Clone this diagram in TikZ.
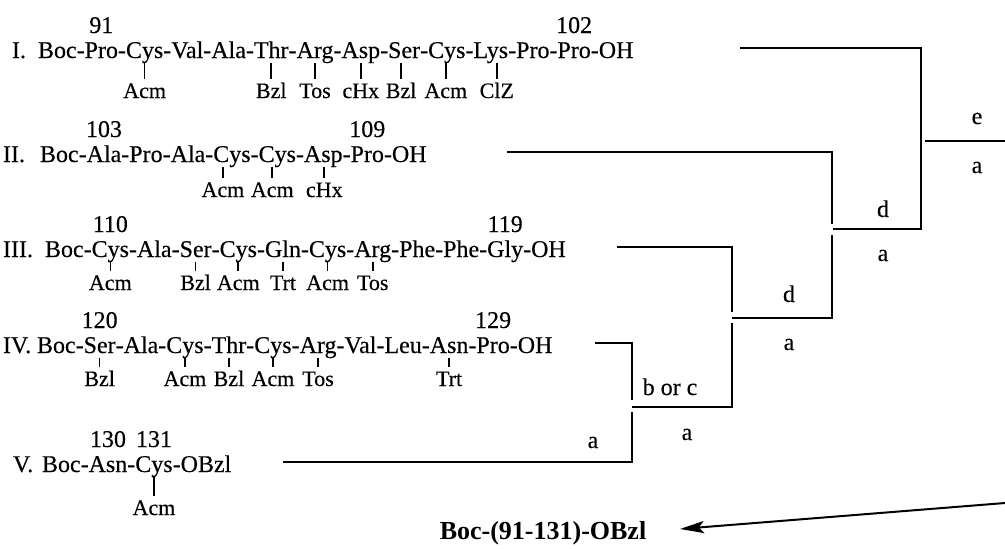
\documentclass[tikz,border=0pt]{standalone}
\usepackage{fontspec}
\setmainfont{Liberation Serif}[UprightFeatures={FakeBold=0.3}]
\usetikzlibrary{calc,arrows.meta}
\tikzset{
 res/.style={inner sep=0pt, outer sep=0pt, anchor=base west, font=\fontsize{24}{28}\selectfont},
 sublab/.style={inner sep=0pt, anchor=base, font=\fontsize{22}{26}\selectfont},
 num/.style={inner sep=0pt, anchor=base, font=\fontsize{24}{28}\selectfont},
 tick/.style={line width=1.6pt},
 conn/.style={line width=2.5pt},
 stepl/.style={inner sep=0pt, anchor=base, font=\fontsize{24}{28}\selectfont},
 prod/.style={inner sep=0pt, anchor=base, font=\bfseries\fontsize{26}{30}\selectfont},
 arr/.style={line width=2pt, -{Stealth[length=24pt,width=12pt,inset=5pt]}},
}
\newcommand\pepchain[3]{%
  \foreach \r [count=\i] in {#3}{%
    \ifnum\i=1
      \node[res] (#1r1) at (#2) {\r};
    \else
      \pgfmathtruncatemacro\prv{\i-1}%
      \node[res] (#1h\i) at (#1r\prv.base east) {-};
      \node[res] (#1r\i) at (#1h\i.base east) {\r};
    \fi}}
% \psub[xshift]{residue}{label}{label baseline offset}{name}
\newcommand\psub[5][0]{%
  \draw[tick] ($(#2.base)+(#1,5)$) -- ($(#2.base)+(#1,#4-19)$);
  \node[sublab] (#5) at ($(#2.base)+(#1,#4)$) {#3};}
\newcommand\pnum[3]{\node[num] (#3) at ($(#1.base)+(0,-25)$) {#2};}
\begin{document}
\begin{tikzpicture}[x=1pt,y=-1pt]
\useasboundingbox (0,0) rectangle (1005,549);
% ---- I
\node[res] (Ilab) at (12,58) {I.};
\pepchain{I}{38,58}{Boc,Pro,Cys,Val,Ala,Thr,Arg,Asp,Ser,Cys,Lys,Pro,Pro,OH}
\pnum{Ir2}{91}{n91}
\pnum{Ir13}{102}{n102}
\psub{Ir3}{Acm}{40}{sI3}
\psub{Ir6}{Bzl}{40}{sI6}
\psub{Ir7}{Tos}{40}{sI7}
\psub{Ir8}{cHx}{40}{sI8}
\psub[-3]{Ir9}{Bzl}{40}{sI9}
\psub[-1]{Ir10}{Acm}{40}{sI10}
\psub[6]{Ir11}{ClZ}{40}{sI11}
% ---- II
\node[res] (IIlab) at (3,162) {II.};
\pepchain{II}{40,162}{Boc,Ala,Pro,Ala,Cys,Cys,Asp,Pro,OH}
\pnum{IIr2}{103}{n103}
\pnum{IIr8}{109}{n109}
\psub[-9]{IIr5}{Acm}{35}{sII5}
\psub[-5]{IIr6}{Acm}{35}{sII6}
\psub[1]{IIr7}{cHx}{35}{sII7}
% ---- III
\node[res] (IIIlab) at (3,257) {III.};
\pepchain{III}{45,257}{Boc,Cys,Ala,Ser,Cys,Gln,Cys,Arg,Phe,Phe,Gly,OH}
\pnum{IIIr2}{110}{n110}
\pnum{IIIr11}{119}{n119}
\psub{IIIr2}{Acm}{33}{sIII2}
\psub{IIIr4}{Bzl}{33}{sIII4}
\psub{IIIr5}{Acm}{33}{sIII5}
\psub{IIIr6}{Trt}{33}{sIII6}
\psub{IIIr7}{Acm}{33}{sIII7}
\psub{IIIr8}{Tos}{33}{sIII8}
% ---- IV
\node[res] (IVlab) at (3,353) {IV.};
\pepchain{IV}{37,353}{Boc,Ser,Ala,Cys,Thr,Cys,Arg,Val,Leu,Asn,Pro,OH}
\pnum{IVr2}{120}{n120}
\pnum{IVr11}{129}{n129}
\psub{IVr2}{Bzl}{33}{sIV2}
\psub{IVr4}{Acm}{33}{sIV4}
\psub{IVr5}{Bzl}{33}{sIV5}
\psub{IVr6}{Acm}{33}{sIV6}
\psub{IVr7}{Tos}{33}{sIV7}
\psub{IVr10}{Trt}{33}{sIV10}
% ---- V
\node[res] (Vlab) at (13,472) {V.};
\pepchain{V}{42,472}{Boc,Asn,Cys,OBzl}
\pnum{Vr2}{130}{n130}
\pnum{Vr3}{131}{n131}
\psub{Vr3}{Acm}{43}{sV3}
% ---- connectors
\coordinate (Iend) at (740,48);
\coordinate (IIend) at (507,152);
\coordinate (IIIend) at (617,247);
\coordinate (IVend) at (595,343);
\coordinate (Vend) at (283,462);
\draw[conn] (IVend) -| (632,400);
\draw[conn] (Vend) -| (632,412);
\draw[conn] (632,407) -| (732,323);
\draw[conn] (IIIend) -| (732,312);
\draw[conn] (732,318) -| (832,235);
\draw[conn] (IIend) -| (832,224);
\draw[conn] (833,229) -| (921,48) -- (Iend);
\coordinate (outS) at (925,141);
\coordinate (outE) at (1005,141);
\draw[conn] (outS) -- (outE);
% ---- step labels
\node[stepl] (le) at (977,124) {e};
\node[stepl] (la1) at (977,173) {a};
\node[stepl] (ld1) at (883,217) {d};
\node[stepl] (la2) at (883,261) {a};
\node[stepl] (ld2) at (789,302) {d};
\node[stepl] (la3) at (789,350) {a};
\node[stepl] (lbc) at (670,395) {b or c};
\node[stepl] (la4) at (687,440) {a};
\node[stepl] (la5) at (593,448) {a};
% ---- product
\node[prod] (prod) at (543,539) {Boc-(91-131)-OBzl};
\coordinate (arrS) at (1005,503);
\coordinate (arrT) at (680,529);
\draw[arr] (arrS) -- (arrT);
\end{tikzpicture}
\end{document}
